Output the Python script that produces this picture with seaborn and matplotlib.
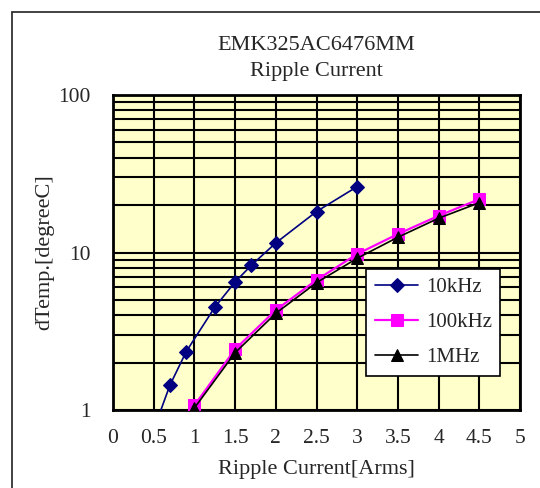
import numpy as np
import pandas as pd
import matplotlib
matplotlib.use("Agg")
import matplotlib.pyplot as plt
import seaborn as sns
from matplotlib.ticker import FixedLocator, FixedFormatter, LogLocator, NullFormatter
from matplotlib.lines import Line2D

# data
x_10k = [0.5, 0.7, 0.9, 1.25, 1.5, 1.7, 2.0, 2.5, 3.0]
y_10k = [0.75, 1.44, 2.35, 4.49, 6.5, 8.3, 11.5, 18.2, 26.2]

x_100k = [1.0, 1.5, 2.0, 2.5, 3.0, 3.5, 4.0, 4.5]
y_100k = [1.07, 2.43, 4.31, 6.69, 9.78, 13.1, 17.1, 21.8]

x_1m = [1.0, 1.5, 2.0, 2.5, 3.0, 3.5, 4.0, 4.5]
y_1m = [1.03, 2.31, 4.11, 6.43, 9.19, 12.5, 16.5, 20.7]

series = ['10kHz', '100kHz', '1MHz']
x_ticks = [0, 0.5, 1, 1.5, 2, 2.5, 3, 3.5, 4, 4.5, 5]
x_tick_labels = ['0', '0.5', '1', '1.5', '2', '2.5', '3', '3.5', '4', '4.5', '5']
y_ticks = [1, 10, 100]
y_tick_labels = ['1', '10', '100']

df = pd.concat([
    pd.DataFrame({'I': x_10k, 'dT': y_10k, 'f': series[0]}),
    pd.DataFrame({'I': x_100k, 'dT': y_100k, 'f': series[1]}),
    pd.DataFrame({'I': x_1m, 'dT': y_1m, 'f': series[2]}),
])

sns.set_style("white")
plt.rcParams['font.family'] = ['Liberation Serif', 'DejaVu Serif']

fig = plt.figure(figsize=(5.4, 4.88), dpi=100)
ax = fig.add_axes([113 / 540, 78 / 488, 407 / 540, 315 / 488])
ax.set_facecolor('#FFFFCC')

styles = {
    '10kHz': dict(color='#000080', marker='D', ms=7.5, lw=1.2),
    '100kHz': dict(color='#FF00FF', marker='s', ms=9, lw=1.6),
    '1MHz': dict(color='black', marker='^', ms=9, lw=1.2),
}
for name in series:
    st = styles[name]
    sns.lineplot(data=df[df['f'] == name], x='I', y='dT', ax=ax, label=name,
                 color=st['color'], marker=st['marker'], markersize=st['ms'],
                 linewidth=st['lw'], markeredgecolor=st['color'], zorder=3)

ax.set_yscale('log')
ax.set_xlim(0, 5)
ax.set_ylim(1, 100)
ax.xaxis.set_major_locator(FixedLocator(x_ticks))
ax.xaxis.set_major_formatter(FixedFormatter(x_tick_labels))
ax.yaxis.set_major_locator(FixedLocator(y_ticks))
ax.yaxis.set_major_formatter(FixedFormatter(y_tick_labels))
ax.yaxis.set_minor_locator(LogLocator(base=10, subs=np.arange(2, 10)))
ax.yaxis.set_minor_formatter(NullFormatter())
ax.grid(True, which='both', color='black', linewidth=1.5, zorder=1)
ax.set_axisbelow(True)
ax.tick_params(axis='both', which='both', length=0, labelsize=15.5)
ax.tick_params(axis='x', pad=14)
ax.tick_params(axis='y', pad=16)
for sp in ax.spines.values():
    sp.set_color('black')
    sp.set_linewidth(2)

ax.set_xlabel('Ripple Current[Arms]', fontsize=16, labelpad=8)
ax.set_ylabel('dTemp.[degreeC]', fontsize=16, labelpad=3)
ax.set_title('EMK325AC6476MM\nRipple Current', fontsize=16, pad=14, linespacing=1.45)

leg = ax.legend(loc='upper right', bbox_to_anchor=(0.951, 0.448), borderaxespad=0,
                fontsize=15, frameon=True, fancybox=False, handlelength=2.1,
                labelspacing=0.75, borderpad=0.4, handletextpad=0.35)
leg.get_frame().set_edgecolor('black')
leg.get_frame().set_linewidth(1.2)
leg.get_frame().set_facecolor('white')
leg.get_frame().set_alpha(1)

# outer chart frame (left and top edges)
fig.add_artist(Line2D([12 / 540, 12 / 540], [0, 1 - 12 / 488], transform=fig.transFigure,
                      color='#333333', linewidth=1.3))
fig.add_artist(Line2D([12 / 540, 1], [1 - 12 / 488, 1 - 12 / 488], transform=fig.transFigure,
                      color='#333333', linewidth=1.3))

fig.savefig('out.png', dpi=100)
